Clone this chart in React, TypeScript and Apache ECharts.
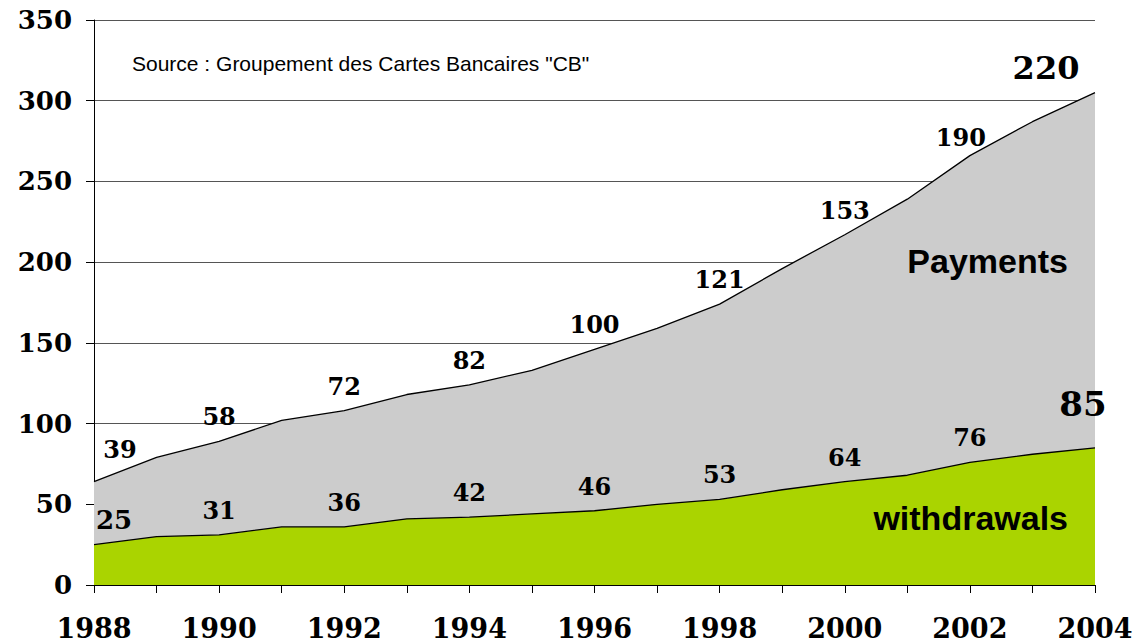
import React, { useEffect, useRef } from "react";
import * as echarts from "echarts";

const years = ["1988","1989","1990","1991","1992","1993","1994","1995","1996","1997","1998","1999","2000","2001","2002","2003","2004"];
const withdrawals = [25, 30, 31, 36, 36, 41, 42, 44, 46, 50, 53, 59, 64, 68, 76, 81, 85];
const payments = [39, 49, 58, 66, 72, 77, 82, 89, 100, 109, 121, 137, 153, 171, 190, 206, 220];
const yTicks = { min: 0, max: 350, interval: 50 };
const sourceText = 'Source : Groupement des Cartes Bancaires "CB"';
const paymentsName = "Payments";
const withdrawalsName = "withdrawals";

const SERIF = "DejaVu Serif";
const SANS = "Liberation Sans, Arial, sans-serif";

function labelFor(i: number, n: number, kind: "w" | "p") {
  const base: any = {
    show: i % 2 === 0,
    position: "top",
    distance: 12,
    fontFamily: SERIF,
    fontWeight: "bold",
    fontSize: 24,
    color: "#000",
  };
  if (kind === "p") {
    if (i === 0) { base.offset = [26, -8]; }
    if (i === n - 3) { base.offset = [-9, 6]; }
    if (i === n - 1) { base.fontSize = 32; base.distance = 8; base.offset = [-49, 0]; }
  } else {
    if (i === 0) { base.fontSize = 26; base.distance = 11; base.offset = [20, 0]; }
    if (i === n - 1) { base.fontSize = 34; base.distance = 26; base.offset = [-12, 0]; }
  }
  return base;
}

export default function App() {
  const ref = useRef<HTMLDivElement>(null);
  useEffect(() => {
    if (!ref.current) return;
    const chart = echarts.init(ref.current, undefined, { renderer: "svg" });
    const n = years.length;
    const common = {
      type: "line",
      stack: "total",
      symbol: "circle",
      symbolSize: 1,
      showSymbol: true,
      itemStyle: { color: "rgba(0,0,0,0)", borderWidth: 0 },
      lineStyle: { color: "#000", width: 1.3 },
      label: { show: true },
      emphasis: { disabled: true },
    };
    chart.setOption({
      animation: false,
      backgroundColor: "#ffffff",
      grid: { left: 94, right: 44, top: 20, bottom: 59, containLabel: false },
      xAxis: {
        type: "category",
        data: years,
        boundaryGap: false,
        axisLine: { show: true, lineStyle: { color: "#000", width: 1 } },
        axisTick: { show: true, interval: 0, length: 8, lineStyle: { color: "#000" } },
        axisLabel: {
          interval: 1,
          margin: 30,
          color: "#000",
          fontFamily: SERIF,
          fontWeight: "bold",
          fontSize: 27,
        },
        splitLine: { show: false },
      },
      yAxis: {
        type: "value",
        min: yTicks.min,
        max: yTicks.max,
        interval: yTicks.interval,
        axisLine: { show: true, lineStyle: { color: "#000", width: 1 } },
        axisTick: { show: true, length: 8, lineStyle: { color: "#000" } },
        axisLabel: {
          margin: 22,
          color: "#000",
          fontFamily: SERIF,
          fontWeight: "bold",
          fontSize: 26,
        },
        splitLine: { show: true, lineStyle: { color: "#555", width: 1 } },
      },
      series: [
        {
          ...common,
          name: withdrawalsName,
          areaStyle: { color: "#aad400", opacity: 1 },
          data: withdrawals.map((v, i) => ({ value: v, label: labelFor(i, n, "w") })),
          z: 3,
        },
        {
          ...common,
          name: paymentsName,
          areaStyle: { color: "#cccccc", opacity: 1 },
          data: payments.map((v, i) => ({ value: v, label: labelFor(i, n, "p") })),
          z: 2,
        },
      ],
      graphic: [
        {
          type: "text",
          left: 132,
          top: 53,
          style: { text: sourceText, fontFamily: SANS, fontSize: 21, fill: "#000" },
          z: 10,
        },
        {
          type: "text",
          right: 1139 - 1068,
          top: 244,
          style: { text: paymentsName, fontFamily: SANS, fontWeight: "bold", fontSize: 34, fill: "#000" },
          z: 10,
        },
        {
          type: "text",
          right: 1139 - 1068,
          top: 501,
          style: { text: withdrawalsName, fontFamily: SANS, fontWeight: "bold", fontSize: 34, fill: "#000" },
          z: 10,
        },
      ],
    });
    return () => chart.dispose();
  }, []);
  return (
    <div
      ref={ref}
      style={{ position: "fixed", left: 0, top: 0, width: 1139, height: 644, background: "#fff" }}
    />
  );
}
